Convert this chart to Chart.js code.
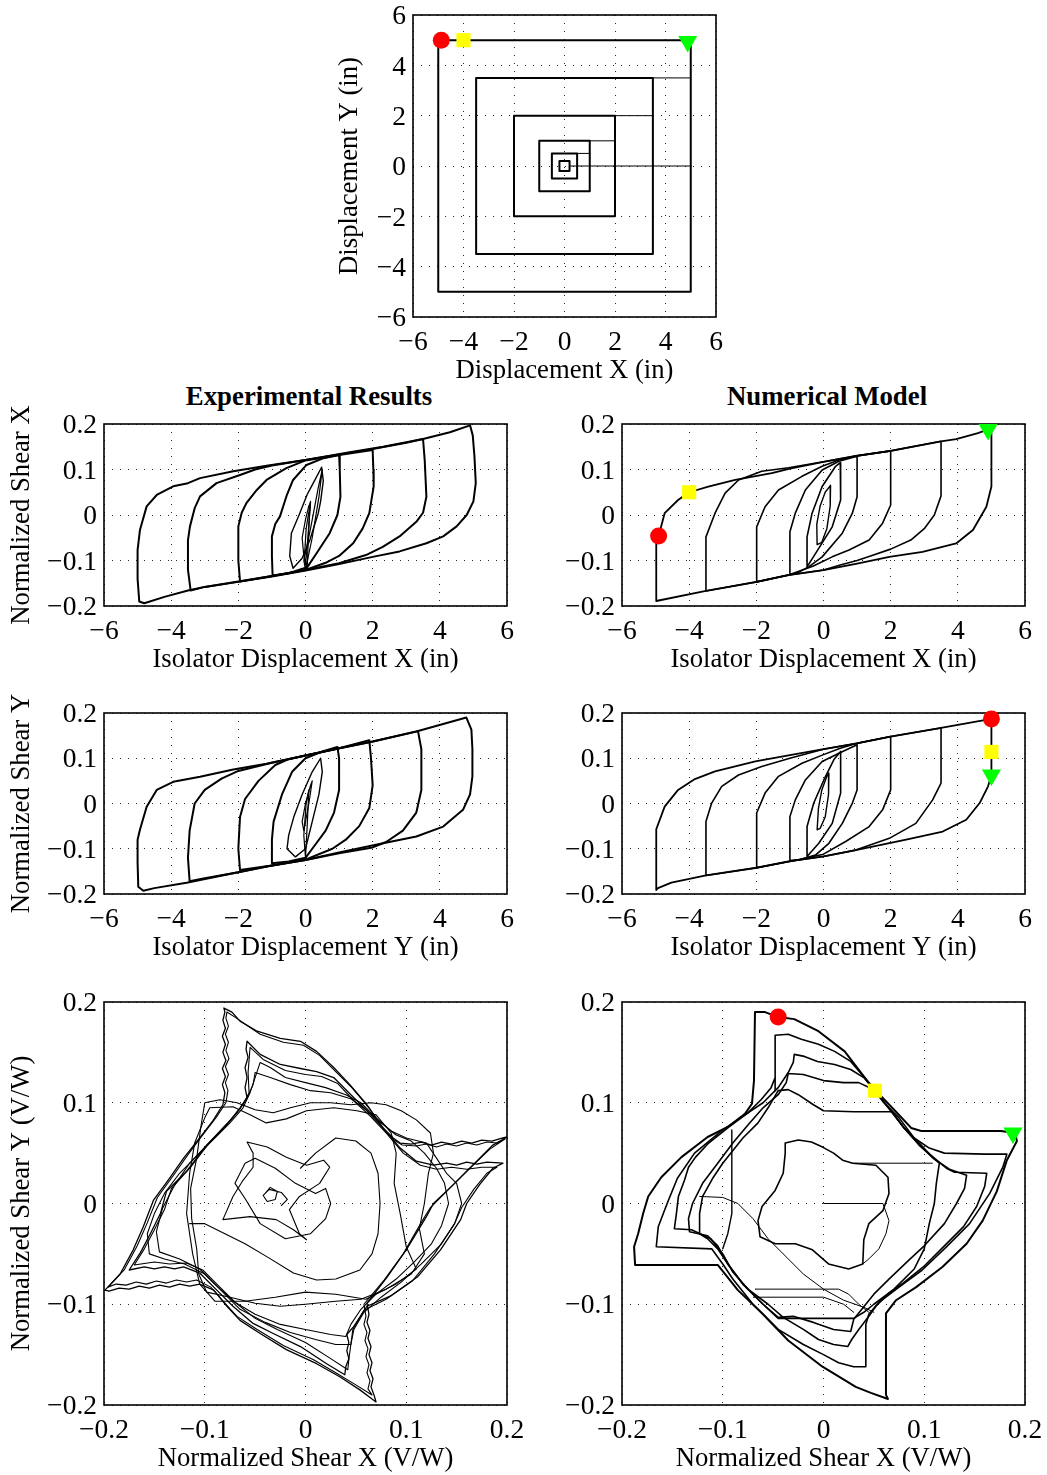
<!DOCTYPE html>
<html>
<head>
<meta charset="utf-8">
<script src="https://cdn.jsdelivr.net/npm/chart.js@4.4.1/dist/chart.umd.min.js"></script>
<style>
  html, body { margin:0; padding:0; background:#fff; }
  body { width:1047px; height:1475px; position:relative; overflow:hidden; }
  canvas { position:absolute; }
  .ttl { position:absolute; font-family:'Liberation Serif','Times New Roman',serif; font-weight:bold; font-size:26.8px; color:#000; text-align:center; white-space:nowrap; }
</style>
</head>
<body>
<div class="ttl" style="left:159px;top:381px;width:300px;">Experimental Results</div>
<div class="ttl" style="left:677px;top:381px;width:300px;">Numerical Model</div>
<canvas id="cOrbit"></canvas>
<canvas id="cExpX"></canvas>
<canvas id="cNumX"></canvas>
<canvas id="cExpY"></canvas>
<canvas id="cNumY"></canvas>
<canvas id="cExpB"></canvas>
<canvas id="cNumB"></canvas>
<script>
// ---------------- tick values and labels ----------------
const dispTicks = [-6, -4, -2, 0, 2, 4, 6];
const dispTickLabels = ['\u22126', '\u22124', '\u22122', '0', '2', '4', '6'];
const shearTicks = [-0.2, -0.1, 0, 0.1, 0.2];
const shearTickLabels = ['\u22120.2', '\u22120.1', '0', '0.1', '0.2'];

// ---------------- displacement orbit (in) ----------------
const orbitSq02 = [[0.2,0.2],[-0.2,0.2],[-0.2,-0.2],[0.2,-0.2],[0.2,0.2]];
const orbitSq05 = [[0.5,0.5],[-0.5,0.5],[-0.5,-0.5],[0.5,-0.5],[0.5,0.5]];
const orbitSq1  = [[1,1],[-1,1],[-1,-1],[1,-1],[1,1]];
const orbitSq2  = [[2,2],[-2,2],[-2,-2],[2,-2],[2,2]];
const orbitSq35 = [[3.5,3.5],[-3.5,3.5],[-3.5,-3.5],[3.5,-3.5],[3.5,3.5]];
const orbitSq5  = [[5,5],[-5,5],[-5,-5],[5,-5],[5,5]];
const orbitLinkA = [[0.2,0],[5,0]];
const orbitLinkB = [[0.5,0.5],[1,0.5]];
const orbitLinkC = [[1,1],[2,1]];
const orbitLinkD = [[2,2],[3.5,2]];
const orbitLinkE = [[3.5,3.5],[5,3.5]];
const orbitRed = [-4.88, 5.0];
const orbitYellow = [-4.0, 5.0];
const orbitGreen = [4.88, 4.95];

// ---------------- experimental shear X vs disp X ----------------
const expX5 = [[4.9,0.197],[4.98,0.175],[5.03,0.13],[5.07,0.07],[5.0,0.03],[4.8,0.0],[4.5,-0.025],[4.1,-0.047],[3.6,-0.062],[2.8,-0.08],[2.0,-0.092],[1.0,-0.108],[0,-0.122],[-1,-0.135],[-2,-0.147],[-3,-0.158],[-3.5,-0.166],[-4.2,-0.18],[-4.8,-0.194],[-4.95,-0.19],[-5.0,-0.14],[-5.0,-0.077],[-4.93,-0.033],[-4.73,0.019],[-4.43,0.044],[-3.94,0.063],[-3.5,0.07],[-3.14,0.081],[-2.15,0.096],[-1.16,0.108],[0,0.121],[1.32,0.138],[2.31,0.15],[3.5,0.167],[4.3,0.182],[4.9,0.197]];
const expX35 = [[3.5,0.167],[3.55,0.12],[3.6,0.04],[3.5,0.005],[3.3,-0.015],[2.8,-0.047],[2.3,-0.07],[1.8,-0.088],[1.0,-0.106],[0,-0.121],[-1,-0.134],[-2,-0.146],[-3,-0.158],[-3.42,-0.166],[-3.5,-0.12],[-3.5,-0.055],[-3.44,-0.025],[-3.3,0.015],[-3.14,0.041],[-2.65,0.07],[-1.95,0.088],[-1.5,0.1],[-1,0.109],[0,0.121],[1,0.133],[2,0.145],[3,0.159],[3.5,0.167]];
const expX2 = [[2.0,0.143],[2.02,0.1],[2.03,0.063],[1.9,0.004],[1.7,-0.03],[1.42,-0.062],[1.0,-0.09],[0.6,-0.105],[0,-0.121],[-1,-0.134],[-1.95,-0.146],[-2.0,-0.1],[-2.0,-0.025],[-1.9,0.005],[-1.76,0.026],[-1.45,0.055],[-1.16,0.077],[-0.57,0.103],[0,0.12],[1,0.132],[2.0,0.143]];
const expX1 = [[1.0,0.132],[1.02,0.1],[1.04,0.04],[0.95,0.0],[0.72,-0.04],[0.33,-0.084],[0.05,-0.115],[-0.5,-0.128],[-0.98,-0.133],[-1.0,-0.09],[-1.0,-0.047],[-0.9,-0.02],[-0.76,-0.003],[-0.55,0.045],[-0.37,0.077],[0.03,0.11],[0.5,0.124],[1.0,0.132]];
const expX05 = [[0.48,0.105],[0.53,0.075],[0.45,0.03],[0.38,0.004],[0.13,-0.055],[-0.1,-0.095],[-0.37,-0.117],[-0.47,-0.09],[-0.42,-0.04],[-0.17,0.004],[0.05,0.045],[0.23,0.07],[0.48,0.105]];
const expX05b = [[0.0,-0.12],[0.2,-0.05],[0.4,0.04],[0.5,0.1],[0.38,0.06],[0.15,-0.03],[-0.05,-0.1],[0.0,-0.12]];
const expX02 = [[0.15,0.028],[0.1,-0.02],[0.05,-0.07],[0.0,-0.11],[-0.05,-0.09],[-0.1,-0.05],[0.0,-0.01],[0.1,0.02],[0.15,0.028]];
const expX02b = [[0.05,-0.12],[0.08,-0.06],[0.12,0.0],[0.15,0.03],[0.02,-0.03],[-0.03,-0.09],[0.05,-0.12]];

// ---------------- experimental shear Y vs disp Y ----------------
const expY5 = [[4.79,0.19],[4.94,0.163],[4.97,0.12],[4.97,0.06],[4.9,0.02],[4.69,-0.014],[4.1,-0.051],[3.3,-0.073],[2.31,-0.088],[1.0,-0.108],[0,-0.125],[-1.16,-0.139],[-2.15,-0.154],[-3.54,-0.175],[-4.5,-0.187],[-4.83,-0.193],[-4.98,-0.184],[-5.0,-0.13],[-5.0,-0.08],[-4.93,-0.058],[-4.73,-0.007],[-4.43,0.03],[-3.94,0.048],[-3.14,0.059],[-2.15,0.075],[-1.16,0.088],[0,0.106],[1.02,0.122],[2.01,0.137],[3.3,0.159],[4.79,0.19]];
const expY35 = [[3.35,0.16],[3.45,0.12],[3.45,0.03],[3.3,-0.02],[2.9,-0.06],[2.4,-0.085],[2.0,-0.097],[1,-0.11],[0,-0.125],[-1,-0.137],[-2,-0.152],[-3,-0.165],[-3.45,-0.172],[-3.5,-0.12],[-3.45,-0.06],[-3.3,0.0],[-3.0,0.03],[-2.5,0.055],[-2.0,0.072],[-1,0.09],[0,0.106],[1,0.122],[2,0.137],[3.35,0.16]];
const expY2 = [[1.9,0.14],[1.95,0.1],[2.0,0.04],[1.9,-0.01],[1.6,-0.05],[1.2,-0.08],[0.8,-0.1],[0,-0.124],[-1,-0.137],[-1.95,-0.147],[-2.0,-0.1],[-1.95,-0.03],[-1.8,0.01],[-1.4,0.05],[-0.9,0.085],[-0.5,0.098],[0,0.106],[1,0.122],[1.9,0.14]];
const expY1 = [[0.95,0.125],[1.0,0.1],[1.0,0.03],[0.85,-0.02],[0.6,-0.06],[0.3,-0.09],[0.0,-0.12],[-0.5,-0.128],[-1.0,-0.132],[-1.0,-0.08],[-0.95,-0.04],[-0.7,0.02],[-0.4,0.07],[0,0.1],[0.5,0.115],[0.95,0.125]];
const expY05 = [[0.45,0.1],[0.5,0.07],[0.4,0.02],[0.2,-0.04],[0.0,-0.1],[-0.3,-0.118],[-0.55,-0.1],[-0.5,-0.07],[-0.35,-0.03],[-0.1,0.02],[0.2,0.07],[0.45,0.1]];
const expY02 = [[0.2,0.05],[0.1,0.0],[-0.05,-0.06],[-0.1,-0.04],[0.0,0.0],[0.15,0.04],[0.2,0.05]];
const expY02b = [[0.0,-0.12],[0.05,-0.05],[0.1,0.03],[0.02,0.0],[-0.05,-0.07],[0.0,-0.12]];

// ---------------- numerical shear X vs disp X ----------------
const numX5 = [[-4.98,-0.189],[-4.98,-0.0625],[-4.91,-0.046],[-4.73,0.004],[-4.33,0.033],[-4.0,0.05],[-3.43,0.0625],[-2.63,0.077],[-1.54,0.092],[-1.0,0.102],[0,0.117],[0.96,0.13],[2.0,0.141],[3.5,0.162],[3.95,0.167],[4.6,0.18],[4.9,0.188],[5.0,0.188],[5.0,0.0625],[4.85,0.018],[4.45,-0.033],[3.95,-0.0625],[2.95,-0.081],[1.96,-0.092],[1.0,-0.107],[0,-0.121],[-1.04,-0.132],[-1.99,-0.147],[-3.5,-0.167],[-4.98,-0.189]];
const numX35 = [[3.5,0.162],[3.5,0.042],[3.3,0.0],[3.0,-0.03],[2.6,-0.055],[2.0,-0.075],[1.4,-0.09],[1.0,-0.1],[0.5,-0.11],[0,-0.121],[-1.04,-0.132],[-1.99,-0.147],[-3.5,-0.167],[-3.5,-0.048],[-3.23,0.004],[-2.93,0.048],[-2.53,0.077],[-1.84,0.096],[-1.04,0.104],[0,0.117],[1,0.13],[2,0.141],[3.5,0.162]];
const numX2 = [[2.0,0.141],[2.0,0.022],[1.76,-0.018],[1.36,-0.055],[0.76,-0.077],[0.26,-0.092],[-0.3,-0.112],[-1.0,-0.131],[-1.99,-0.147],[-1.99,-0.026],[-1.74,0.018],[-1.34,0.055],[-0.64,0.085],[-0.04,0.107],[0.5,0.122],[1,0.13],[2.0,0.141]];
const numX1 = [[1.0,0.129],[1.0,0.04],[0.86,0.004],[0.56,-0.04],[-0.04,-0.092],[-0.44,-0.114],[-0.8,-0.128],[-1.0,-0.131],[-1.0,-0.037],[-0.84,0.004],[-0.54,0.055],[-0.04,0.099],[0.46,0.118],[1.0,0.129]];
const numX05 = [[0.5,0.115],[0.51,0.033],[0.26,-0.026],[-0.24,-0.085],[-0.49,-0.114],[-0.49,-0.048],[-0.34,0.004],[-0.04,0.0625],[0.36,0.107],[0.5,0.115]];
const numX02 = [[0.21,0.065],[0.2,0.02],[0.1,-0.03],[-0.05,-0.06],[-0.19,-0.065],[-0.2,-0.02],[-0.1,0.02],[0.05,0.05],[0.21,0.065]];
const numXRed = [-4.91, -0.046];
const numXYellow = [-4.0, 0.05];
const numXGreen = [4.9, 0.188];

// ---------------- numerical shear Y vs disp Y ----------------
const numY5 = [[-4.98,-0.191],[-4.98,-0.057],[-4.73,-0.007],[-4.33,0.03],[-3.83,0.054],[-3.23,0.071],[-2.03,0.093],[-1.0,0.107],[0,0.12],[1.0,0.133],[2.0,0.148],[3.5,0.167],[5.0,0.187],[5.0,0.063],[4.9,0.038],[4.65,0.001],[4.25,-0.036],[3.55,-0.062],[2.46,-0.08],[0.96,-0.103],[0,-0.117],[-1.04,-0.128],[-1.99,-0.142],[-3.5,-0.159],[-4.53,-0.175],[-4.93,-0.187],[-4.98,-0.191]];
const numY35 = [[3.5,0.167],[3.5,0.045],[3.25,0.008],[2.75,-0.044],[1.96,-0.077],[0.96,-0.103],[0,-0.117],[-1.04,-0.128],[-1.99,-0.142],[-3.5,-0.159],[-3.5,-0.04],[-3.33,0.001],[-3.03,0.038],[-2.53,0.063],[-1.84,0.082],[-1.0,0.1],[0,0.12],[1.0,0.133],[2.0,0.148],[3.5,0.167]];
const numY2 = [[2.0,0.148],[2.0,0.03],[1.76,-0.014],[1.36,-0.051],[0.66,-0.084],[0.0,-0.112],[-1.0,-0.128],[-1.99,-0.142],[-1.99,-0.021],[-1.74,0.023],[-1.34,0.06],[-0.64,0.089],[0,0.108],[0.5,0.122],[1.0,0.133],[2.0,0.148]];
const numY1 = [[1.0,0.13],[1.0,0.03],[0.86,0.001],[0.56,-0.044],[0.16,-0.088],[-0.24,-0.114],[-0.7,-0.124],[-1.0,-0.126],[-1.0,-0.029],[-0.84,0.008],[-0.54,0.052],[-0.04,0.093],[0.46,0.111],[1.0,0.13]];
const numY05 = [[0.51,0.115],[0.51,0.023],[0.26,-0.044],[-0.14,-0.088],[-0.49,-0.117],[-0.49,-0.051],[-0.29,0.001],[0.01,0.052],[0.31,0.097],[0.51,0.115]];
const numY02 = [[0.16,0.067],[0.15,0.02],[0.05,-0.03],[-0.1,-0.055],[-0.19,-0.058],[-0.15,-0.01],[-0.05,0.03],[0.1,0.06],[0.16,0.067]];
const numYRed = [5.0, 0.187];
const numYYellow = [5.0, 0.114];
const numYGreen = [5.0, 0.063];

// ---------------- experimental shear Y vs shear X ----------------
const expB5 = [[-0.081,0.194],[-0.073,0.19],[-0.065,0.181],[-0.048,0.171],[-0.025,0.164],[-0.005,0.161],[0.011,0.151],[0.028,0.135],[0.044,0.118],[0.061,0.098],[0.077,0.075],[0.087,0.065],[0.094,0.06],[0.105,0.059],[0.115,0.061],[0.125,0.058],[0.135,0.061],[0.145,0.059],[0.155,0.062],[0.165,0.06],[0.175,0.063],[0.185,0.062],[0.195,0.065],[0.2,0.066],[0.186,0.058],[0.167,0.039],[0.147,0.019],[0.127,0.0],[0.12,-0.013],[0.1,-0.046],[0.081,-0.073],[0.061,-0.099],[0.063,-0.11],[0.061,-0.118],[0.064,-0.126],[0.062,-0.134],[0.065,-0.142],[0.063,-0.15],[0.066,-0.158],[0.064,-0.166],[0.067,-0.174],[0.065,-0.182],[0.068,-0.19],[0.07,-0.197],[0.054,-0.185],[0.034,-0.172],[0.011,-0.159],[-0.019,-0.145],[-0.045,-0.129],[-0.065,-0.116],[-0.078,-0.102],[-0.091,-0.086],[-0.105,-0.08],[-0.115,-0.082],[-0.125,-0.08],[-0.135,-0.083],[-0.145,-0.081],[-0.155,-0.084],[-0.165,-0.082],[-0.175,-0.085],[-0.185,-0.084],[-0.195,-0.087],[-0.199,-0.086],[-0.184,-0.07],[-0.171,-0.046],[-0.161,-0.023],[-0.151,0.003],[-0.135,0.025],[-0.121,0.045],[-0.105,0.065],[-0.092,0.082],[-0.082,0.098],[-0.08,0.11],[-0.0825,0.118],[-0.0795,0.126],[-0.0825,0.134],[-0.079,0.142],[-0.082,0.15],[-0.0795,0.158],[-0.0825,0.166],[-0.0795,0.174],[-0.082,0.182],[-0.08,0.19],[-0.081,0.194]];
const expB5b = [[-0.078,0.19],[-0.07,0.185],[-0.06,0.178],[-0.045,0.168],[-0.022,0.16],[-0.002,0.157],[0.014,0.147],[0.03,0.131],[0.046,0.115],[0.063,0.095],[0.078,0.073],[0.088,0.063],[0.096,0.058],[0.11,0.057],[0.12,0.059],[0.13,0.056],[0.14,0.059],[0.15,0.057],[0.16,0.06],[0.17,0.058],[0.18,0.061],[0.19,0.06],[0.198,0.064],[0.183,0.054],[0.163,0.035],[0.143,0.015],[0.124,-0.004],[0.116,-0.017],[0.097,-0.05],[0.078,-0.076],[0.058,-0.1],[0.06,-0.112],[0.058,-0.12],[0.061,-0.128],[0.059,-0.136],[0.062,-0.144],[0.06,-0.152],[0.063,-0.16],[0.061,-0.168],[0.064,-0.176],[0.062,-0.184],[0.066,-0.19],[0.05,-0.18],[0.03,-0.168],[0.008,-0.155],[-0.022,-0.141],[-0.048,-0.125],[-0.068,-0.112],[-0.081,-0.098],[-0.094,-0.083],[-0.108,-0.076],[-0.118,-0.078],[-0.128,-0.076],[-0.138,-0.079],[-0.148,-0.077],[-0.158,-0.08],[-0.168,-0.078],[-0.178,-0.081],[-0.188,-0.08],[-0.196,-0.083],[-0.18,-0.066],[-0.167,-0.042],[-0.157,-0.019],[-0.147,0.006],[-0.131,0.028],[-0.117,0.048],[-0.102,0.068],[-0.089,0.085],[-0.079,0.1],[-0.077,0.112],[-0.0795,0.12],[-0.0765,0.128],[-0.0795,0.136],[-0.076,0.144],[-0.079,0.152],[-0.0765,0.16],[-0.0795,0.168],[-0.0765,0.176],[-0.079,0.184],[-0.078,0.19]];
const expB35 = [[-0.058,0.161],[-0.045,0.148],[-0.025,0.138],[-0.005,0.134],[0.011,0.131],[0.028,0.125],[0.048,0.105],[0.061,0.092],[0.077,0.075],[0.094,0.055],[0.11,0.042],[0.127,0.038],[0.14,0.04],[0.15,0.038],[0.16,0.041],[0.17,0.039],[0.18,0.041],[0.196,0.04],[0.186,0.035],[0.173,0.019],[0.16,0.0],[0.154,-0.016],[0.134,-0.046],[0.111,-0.073],[0.084,-0.092],[0.061,-0.102],[0.048,-0.122],[0.041,-0.13],[0.043,-0.138],[0.041,-0.146],[0.043,-0.154],[0.04,-0.162],[0.039,-0.17],[0.021,-0.159],[-0.005,-0.142],[-0.032,-0.129],[-0.052,-0.119],[-0.072,-0.102],[-0.088,-0.086],[-0.105,-0.069],[-0.121,-0.063],[-0.13,-0.065],[-0.14,-0.063],[-0.15,-0.065],[-0.16,-0.063],[-0.175,-0.066],[-0.164,-0.049],[-0.154,-0.03],[-0.144,-0.01],[-0.138,0.012],[-0.118,0.032],[-0.098,0.058],[-0.078,0.078],[-0.065,0.095],[-0.058,0.105],[-0.06,0.115],[-0.058,0.125],[-0.06,0.135],[-0.057,0.145],[-0.059,0.153],[-0.058,0.161]];
const expB35b = [[-0.055,0.155],[-0.042,0.143],[-0.02,0.132],[0.0,0.128],[0.016,0.126],[0.032,0.119],[0.05,0.1],[0.064,0.087],[0.08,0.07],[0.097,0.05],[0.114,0.038],[0.13,0.034],[0.145,0.036],[0.16,0.034],[0.175,0.036],[0.19,0.036],[0.18,0.03],[0.167,0.014],[0.155,-0.004],[0.148,-0.02],[0.128,-0.05],[0.106,-0.077],[0.08,-0.095],[0.058,-0.106],[0.047,-0.125],[0.045,-0.14],[0.043,-0.155],[0.042,-0.165],[0.025,-0.154],[0.0,-0.138],[-0.028,-0.125],[-0.05,-0.114],[-0.07,-0.098],[-0.086,-0.082],[-0.102,-0.066],[-0.118,-0.059],[-0.135,-0.06],[-0.15,-0.058],[-0.17,-0.061],[-0.16,-0.045],[-0.15,-0.026],[-0.14,-0.006],[-0.133,0.015],[-0.114,0.036],[-0.094,0.062],[-0.075,0.082],[-0.062,0.098],[-0.056,0.11],[-0.057,0.13],[-0.055,0.155]];
const expB2 = [[-0.045,0.14],[-0.035,0.135],[-0.02,0.125],[0.0,0.12],[0.02,0.115],[0.04,0.108],[0.055,0.1],[0.07,0.085],[0.085,0.072],[0.1,0.065],[0.12,0.06],[0.13,0.045],[0.14,0.03],[0.15,0.02],[0.155,0.0],[0.148,-0.02],[0.135,-0.04],[0.115,-0.06],[0.095,-0.078],[0.075,-0.093],[0.058,-0.108],[0.048,-0.125],[0.045,-0.14],[0.03,-0.14],[0.01,-0.135],[-0.015,-0.128],[-0.04,-0.118],[-0.065,-0.105],[-0.085,-0.085],[-0.1,-0.07],[-0.12,-0.06],[-0.14,-0.055],[-0.155,-0.05],[-0.157,-0.03],[-0.15,-0.01],[-0.14,0.01],[-0.125,0.03],[-0.105,0.05],[-0.09,0.065],[-0.075,0.08],[-0.062,0.095],[-0.055,0.11],[-0.05,0.125],[-0.045,0.14]];
const expB2b = [[-0.05,0.13],[-0.035,0.125],[-0.015,0.118],[0.005,0.112],[0.025,0.11],[0.045,0.104],[0.06,0.093],[0.075,0.08],[0.09,0.068],[0.105,0.062],[0.118,0.05],[0.13,0.035],[0.138,0.02],[0.142,0.0],[0.135,-0.022],[0.125,-0.04],[0.108,-0.058],[0.09,-0.075],[0.07,-0.09],[0.055,-0.105],[0.045,-0.12],[0.04,-0.132],[0.025,-0.13],[0.0,-0.125],[-0.025,-0.12],[-0.05,-0.11],[-0.07,-0.098],[-0.09,-0.08],[-0.105,-0.065],[-0.125,-0.055],[-0.145,-0.048],[-0.148,-0.028],[-0.142,-0.005],[-0.13,0.018],[-0.115,0.04],[-0.098,0.058],[-0.082,0.075],[-0.068,0.09],[-0.058,0.105],[-0.052,0.118],[-0.05,0.13]];
const expB1 = [[-0.095,0.095],[-0.072,0.096],[-0.055,0.088],[-0.039,0.08],[-0.019,0.084],[0.001,0.092],[0.028,0.095],[0.051,0.092],[0.07,0.088],[0.085,0.07],[0.09,0.05],[0.088,0.02],[0.094,-0.01],[0.1,-0.043],[0.11,-0.065],[0.09,-0.08],[0.06,-0.095],[0.03,-0.09],[0.0,-0.088],[-0.03,-0.093],[-0.06,-0.097],[-0.09,-0.097],[-0.105,-0.08],[-0.112,-0.05],[-0.118,-0.01],[-0.115,0.03],[-0.11,0.06],[-0.1,0.085],[-0.095,0.095]];
const expB1b = [[-0.1,0.1],[-0.085,0.103],[-0.068,0.1],[-0.05,0.093],[-0.032,0.09],[-0.015,0.095],[0.005,0.1],[0.025,0.1],[0.045,0.098],[0.065,0.1],[0.08,0.098],[0.095,0.092],[0.11,0.083],[0.124,0.07],[0.127,0.05],[0.122,0.03],[0.118,0.0],[0.113,-0.025],[0.118,-0.05],[0.105,-0.07],[0.08,-0.085],[0.055,-0.095],[0.03,-0.097],[0.0,-0.1],[-0.025,-0.102],[-0.05,-0.099],[-0.075,-0.093],[-0.098,-0.088],[-0.106,-0.07],[-0.108,-0.045],[-0.113,-0.015],[-0.114,0.015],[-0.108,0.045],[-0.104,0.075],[-0.1,0.1]];
const expBIn = [[-0.005,0.035],[0.01,0.05],[0.03,0.065],[0.05,0.062],[0.065,0.05],[0.072,0.03],[0.074,0.0],[0.072,-0.03],[0.066,-0.05],[0.054,-0.066],[0.03,-0.075],[0.011,-0.076],[-0.012,-0.069],[-0.038,-0.053],[-0.06,-0.04],[-0.08,-0.03],[-0.1,-0.02],[-0.115,-0.02]];
const expBStar = [[-0.058,0.061],[-0.038,0.056],[-0.019,0.046],[0.001,0.038],[0.018,0.043],[0.024,0.036],[0.014,0.02],[-0.006,0.007],[-0.016,-0.006],[-0.006,-0.03],[0.001,-0.036],[-0.012,-0.026],[-0.029,-0.016],[-0.055,-0.013],[-0.082,-0.016],[-0.072,0.007],[-0.062,0.023],[-0.052,0.036],[-0.052,0.05],[-0.058,0.061]];
const expBStar2 = [[-0.06,0.005],[-0.07,0.02],[-0.06,0.04],[-0.05,0.045],[-0.03,0.035],[-0.01,0.02],[0.01,0.01],[0.02,0.015],[0.025,0.0],[0.02,-0.015],[0.005,-0.03],[-0.02,-0.035],[-0.045,-0.02],[-0.06,0.005]];
const expBCurl = [[-0.04,0.01],[-0.035,0.016],[-0.028,0.012],[-0.03,0.004],[-0.038,0.002],[-0.042,0.008],[-0.036,0.014],[-0.024,0.011],[-0.018,0.004],[-0.024,-0.002]];

// ---------------- numerical shear Y vs shear X ----------------
const numB5 = [[-0.068,0.19],[-0.058,0.19],[-0.045,0.185],[-0.029,0.183],[-0.005,0.171],[0.021,0.151],[0.044,0.121],[0.051,0.113],[0.071,0.092],[0.087,0.075],[0.097,0.072],[0.176,0.072],[0.19,0.07],[0.192,0.062],[0.182,0.043],[0.172,0.012],[0.158,-0.017],[0.142,-0.04],[0.118,-0.063],[0.092,-0.083],[0.072,-0.096],[0.062,-0.109],[0.062,-0.19],[0.064,-0.194],[0.047,-0.188],[0.032,-0.182],[-0.001,-0.162],[-0.035,-0.136],[-0.061,-0.109],[-0.085,-0.086],[-0.101,-0.066],[-0.105,-0.061],[-0.187,-0.061],[-0.188,-0.043],[-0.184,-0.03],[-0.179,-0.01],[-0.174,0.007],[-0.161,0.026],[-0.141,0.046],[-0.115,0.066],[-0.095,0.076],[-0.078,0.089],[-0.071,0.099],[-0.069,0.122],[-0.068,0.19]];
const numB35 = [[-0.048,0.112],[-0.048,0.167],[-0.035,0.168],[-0.022,0.163],[-0.005,0.158],[0.011,0.151],[0.027,0.141],[0.044,0.121],[0.06,0.1],[0.075,0.085],[0.09,0.065],[0.105,0.055],[0.12,0.05],[0.16,0.049],[0.182,0.049],[0.178,0.036],[0.165,0.01],[0.145,-0.02],[0.122,-0.043],[0.098,-0.066],[0.075,-0.083],[0.055,-0.098],[0.045,-0.11],[0.042,-0.12],[0.042,-0.162],[0.03,-0.162],[0.015,-0.158],[0.0,-0.15],[-0.02,-0.14],[-0.045,-0.125],[-0.07,-0.1],[-0.09,-0.075],[-0.1,-0.06],[-0.111,-0.045],[-0.166,-0.043],[-0.164,-0.023],[-0.159,-0.01],[-0.154,0.003],[-0.145,0.025],[-0.128,0.05],[-0.1,0.073],[-0.075,0.09],[-0.062,0.103],[-0.052,0.115],[-0.048,0.125],[-0.048,0.167]];
const numB2 = [[-0.029,0.148],[-0.019,0.146],[-0.006,0.141],[0.011,0.138],[0.027,0.133],[0.04,0.125],[0.05,0.113],[0.065,0.095],[0.08,0.075],[0.095,0.058],[0.11,0.045],[0.122,0.035],[0.13,0.031],[0.162,0.03],[0.16,0.017],[0.152,-0.003],[0.139,-0.023],[0.119,-0.043],[0.099,-0.063],[0.079,-0.079],[0.065,-0.089],[0.052,-0.102],[0.045,-0.112],[0.035,-0.125],[0.028,-0.135],[0.024,-0.142],[0.01,-0.14],[-0.005,-0.135],[-0.02,-0.125],[-0.04,-0.113],[-0.055,-0.1],[-0.075,-0.085],[-0.09,-0.068],[-0.1,-0.05],[-0.112,-0.035],[-0.131,-0.026],[-0.148,-0.025],[-0.146,-0.01],[-0.144,0.007],[-0.138,0.023],[-0.134,0.036],[-0.127,0.046],[-0.114,0.06],[-0.095,0.075],[-0.075,0.09],[-0.06,0.1],[-0.045,0.115],[-0.035,0.13],[-0.03,0.14],[-0.029,0.148]];
const numB1 = [[-0.035,0.129],[-0.02,0.128],[0.0,0.122],[0.02,0.12],[0.035,0.12],[0.05,0.113],[0.065,0.094],[0.08,0.075],[0.095,0.058],[0.11,0.044],[0.125,0.034],[0.142,0.028],[0.14,0.015],[0.132,0.0],[0.12,-0.02],[0.1,-0.042],[0.085,-0.056],[0.065,-0.075],[0.05,-0.09],[0.038,-0.105],[0.03,-0.115],[0.027,-0.127],[0.01,-0.125],[-0.01,-0.118],[-0.03,-0.112],[-0.045,-0.113],[-0.06,-0.1],[-0.08,-0.08],[-0.095,-0.06],[-0.105,-0.042],[-0.115,-0.032],[-0.133,-0.028],[-0.134,-0.015],[-0.13,0.0],[-0.12,0.02],[-0.105,0.04],[-0.09,0.06],[-0.075,0.078],[-0.06,0.095],[-0.045,0.108],[-0.037,0.12],[-0.035,0.129]];
const numB05 = [[-0.045,0.112],[-0.035,0.113],[-0.025,0.108],[-0.01,0.098],[0.0,0.092],[0.03,0.091],[0.068,0.091],[0.08,0.075],[0.095,0.06],[0.108,0.046],[0.115,0.04],[0.112,0.02],[0.11,0.0],[0.105,-0.02],[0.1,-0.045],[0.09,-0.065],[0.07,-0.085],[0.05,-0.1],[0.04,-0.108],[0.03,-0.114],[0.0,-0.114],[-0.045,-0.114],[-0.06,-0.1],[-0.08,-0.08],[-0.095,-0.06],[-0.105,-0.045],[-0.115,-0.035],[-0.123,-0.03],[-0.123,-0.01],[-0.12,0.007],[-0.11,0.025],[-0.1,0.04],[-0.08,0.065],[-0.065,0.08],[-0.055,0.095],[-0.045,0.112]];
const numBBlob = [[-0.038,0.06],[-0.025,0.063],[-0.012,0.061],[-0.001,0.056],[0.01,0.05],[0.019,0.043],[0.029,0.04],[0.052,0.038],[0.064,0.026],[0.065,0.01],[0.059,-0.007],[0.045,-0.02],[0.04,-0.036],[0.039,-0.06],[0.025,-0.065],[0.005,-0.06],[-0.011,-0.046],[-0.028,-0.04],[-0.048,-0.04],[-0.063,-0.033],[-0.065,-0.017],[-0.061,-0.003],[-0.048,0.013],[-0.04,0.03],[-0.038,0.05],[-0.038,0.06]];
const numBThinA = [[0.0,0.0],[0.059,0.0],[0.065,-0.017],[0.062,-0.03],[0.055,-0.045],[0.045,-0.055],[0.039,-0.06]];
const numBThinB = [[-0.123,0.007],[-0.1,0.006],[-0.085,0.0],[-0.07,-0.015],[-0.055,-0.035],[-0.04,-0.05],[-0.02,-0.07],[0.0,-0.085],[0.02,-0.096],[0.04,-0.103],[0.05,-0.108]];
const numBThinC = [[-0.068,-0.085],[0.015,-0.085],[0.025,-0.09],[0.035,-0.1],[0.045,-0.108]];
const numBThinD = [[-0.07,-0.093],[0.0,-0.093],[0.02,-0.1],[0.03,-0.108]];
const numBThinE = [[0.029,0.04],[0.108,0.04]];
const numBThinF = [[-0.091,0.073],[-0.091,-0.01],[-0.095,-0.03],[-0.1,-0.045]];
const numBRed = [-0.045, 0.185];
const numBYellow = [0.051, 0.112];
const numBGreen = [0.188, 0.07];

// ---------------- drawing helpers ----------------
const FONT = "'Liberation Serif','Times New Roman',serif";
const TICK_SIZE = 27.5;
const TITLE_SIZE = 26.7;
const X_H = 76;
const PAD_T = 26;
const PAD_R = 30;

function lineDS(arr, w) {
  return { data: arr.map(p => ({x: p[0], y: p[1]})), showLine: true, borderColor: '#000',
           borderWidth: w, pointRadius: 0, tension: 0, fill: false, order: 2,
           borderJoinStyle: 'round', borderCapStyle: 'round' };
}
function markerDS(p, style, color, r, rot) {
  return { data: [{x: p[0], y: p[1]}], showLine: false, pointStyle: style, pointRadius: r,
           pointRotation: rot || 0, backgroundColor: color, borderColor: color, borderWidth: 0,
           order: 0, clip: false };
}
const boxPlugin = {
  id: 'boxFrame',
  beforeDatasetsDraw(chart) {
    const {ctx, chartArea: a} = chart;
    ctx.save();
    ctx.strokeStyle = '#000';
    ctx.lineWidth = 1.6;
    ctx.strokeRect(a.left, a.top, a.right - a.left, a.bottom - a.top);
    ctx.restore();
  }
};

function axis(ticks, labels, min, max, title, isX, size, titlePad) {
  return {
    type: 'linear', min: min, max: max,
    afterBuildTicks: s => { s.ticks = ticks.map(v => ({value: v})); },
    afterFit: s => { if (isX) s.height = size; else s.width = size; },
    grid: { color: 'rgba(0,0,0,0.85)', lineWidth: 1, drawTicks: false },
    border: { display: false, dash: [1, 7] },
    ticks: { padding: isX ? 9 : 7, labelOffset: isX ? 0 : 2, color: '#000',
             font: {family: FONT, size: TICK_SIZE},
             callback: (v, i) => labels[i] },
    title: { display: !!title, text: title || '', color: '#000',
             font: {family: FONT, size: TITLE_SIZE},
             padding: isX ? {top: 0, bottom: titlePad} : {top: titlePad, bottom: 0} }
  };
}

function makeChart(id, box, yW, xT, xL, xMin, xMax, yT, yL, yMin, yMax, xTitle, yTitle, datasets) {
  const cv = document.getElementById(id);
  const w = yW + box.w + PAD_R, h = PAD_T + box.h + X_H;
  cv.width = w; cv.height = h;
  cv.style.left = (box.l - yW) + 'px';
  cv.style.top = (box.t - PAD_T) + 'px';
  cv.style.width = w + 'px'; cv.style.height = h + 'px';
  return new Chart(cv, {
    type: 'scatter',
    data: { datasets: datasets },
    plugins: [boxPlugin],
    options: {
      responsive: false, animation: false, devicePixelRatio: 1,
      layout: { padding: {left: 0, top: PAD_T, right: PAD_R, bottom: 0} },
      plugins: { legend: {display: false}, tooltip: {enabled: false} },
      scales: {
        x: axis(xT, xL, xMin, xMax, xTitle, true, X_H, 6),
        y: axis(yT, yL, yMin, yMax, yTitle, false, yW, 6)
      }
    }
  });
}

// ---------------- charts ----------------
makeChart('cOrbit', {l: 413, t: 15, w: 303, h: 302}, 85,
  dispTicks, dispTickLabels, -6, 6, dispTicks, dispTickLabels, -6, 6,
  'Displacement X (in)', 'Displacement Y (in)', [
    markerDS(orbitRed, 'circle', '#ff0000', 8.5),
    markerDS(orbitYellow, 'rect', '#ffff00', 10),
    markerDS(orbitGreen, 'triangle', '#00ff00', 11, 180),
    lineDS(orbitSq02, 2), lineDS(orbitSq05, 2), lineDS(orbitSq1, 2),
    lineDS(orbitSq2, 2), lineDS(orbitSq35, 2), lineDS(orbitSq5, 2),
    lineDS(orbitLinkA, 1), lineDS(orbitLinkB, 1), lineDS(orbitLinkC, 1),
    lineDS(orbitLinkD, 1), lineDS(orbitLinkE, 1)
  ]);

makeChart('cExpX', {l: 104, t: 424, w: 403, h: 182}, 104,
  dispTicks, dispTickLabels, -6, 6, shearTicks, shearTickLabels, -0.2, 0.2,
  'Isolator Displacement X (in)', 'Normalized Shear X', [
    lineDS(expX5, 2), lineDS(expX35, 2), lineDS(expX2, 2), lineDS(expX1, 2),
    lineDS(expX05, 1.4), lineDS(expX05b, 1.2), lineDS(expX02, 1.2), lineDS(expX02b, 1.2)
  ]);

makeChart('cNumX', {l: 622, t: 424, w: 403, h: 182}, 104,
  dispTicks, dispTickLabels, -6, 6, shearTicks, shearTickLabels, -0.2, 0.2,
  'Isolator Displacement X (in)', '', [
    markerDS(numXRed, 'circle', '#ff0000', 8.5),
    markerDS(numXYellow, 'rect', '#ffff00', 10),
    markerDS(numXGreen, 'triangle', '#00ff00', 11, 180),
    lineDS(numX5, 1.8), lineDS(numX35, 1.6), lineDS(numX2, 1.6), lineDS(numX1, 1.6),
    lineDS(numX05, 1.6), lineDS(numX02, 1.4)
  ]);

makeChart('cExpY', {l: 104, t: 713, w: 403, h: 181}, 104,
  dispTicks, dispTickLabels, -6, 6, shearTicks, shearTickLabels, -0.2, 0.2,
  'Isolator Displacement Y (in)', 'Normalized Shear Y', [
    lineDS(expY5, 2), lineDS(expY35, 2), lineDS(expY2, 2), lineDS(expY1, 2),
    lineDS(expY05, 1.4), lineDS(expY02, 1.2), lineDS(expY02b, 1.2)
  ]);

makeChart('cNumY', {l: 622, t: 713, w: 403, h: 181}, 104,
  dispTicks, dispTickLabels, -6, 6, shearTicks, shearTickLabels, -0.2, 0.2,
  'Isolator Displacement Y (in)', '', [
    markerDS(numYRed, 'circle', '#ff0000', 8.5),
    markerDS(numYYellow, 'rect', '#ffff00', 10),
    markerDS(numYGreen, 'triangle', '#00ff00', 11, 180),
    lineDS(numY5, 1.8), lineDS(numY35, 1.6), lineDS(numY2, 1.6), lineDS(numY1, 1.6),
    lineDS(numY05, 1.6), lineDS(numY02, 1.4)
  ]);

makeChart('cExpB', {l: 104, t: 1002, w: 403, h: 403}, 104,
  shearTicks, shearTickLabels, -0.2, 0.2, shearTicks, shearTickLabels, -0.2, 0.2,
  'Normalized Shear X (V/W)', 'Normalized Shear Y (V/W)', [
    lineDS(expB5, 1.3), lineDS(expB5b, 1.1), lineDS(expB35, 1.3), lineDS(expB35b, 1.1),
    lineDS(expB2, 1.1), lineDS(expB2b, 1.1), lineDS(expB1, 1.1),
    lineDS(expB1b, 1.1), lineDS(expBIn, 1.1), lineDS(expBStar, 1.1), lineDS(expBStar2, 1.1),
    lineDS(expBCurl, 1.1)
  ]);

makeChart('cNumB', {l: 622, t: 1002, w: 403, h: 403}, 104,
  shearTicks, shearTickLabels, -0.2, 0.2, shearTicks, shearTickLabels, -0.2, 0.2,
  'Normalized Shear X (V/W)', '', [
    markerDS(numBRed, 'circle', '#ff0000', 8.5),
    markerDS(numBYellow, 'rect', '#ffff00', 10),
    markerDS(numBGreen, 'triangle', '#00ff00', 11, 180),
    lineDS(numB5, 2), lineDS(numB35, 1.6), lineDS(numB2, 1.6), lineDS(numB1, 1.6),
    lineDS(numB05, 1.6), lineDS(numBBlob, 1.6),
    lineDS(numBThinA, 1), lineDS(numBThinB, 1), lineDS(numBThinC, 1),
    lineDS(numBThinD, 1), lineDS(numBThinE, 1), lineDS(numBThinF, 1.4)
  ]);
</script>
</body>
</html>
